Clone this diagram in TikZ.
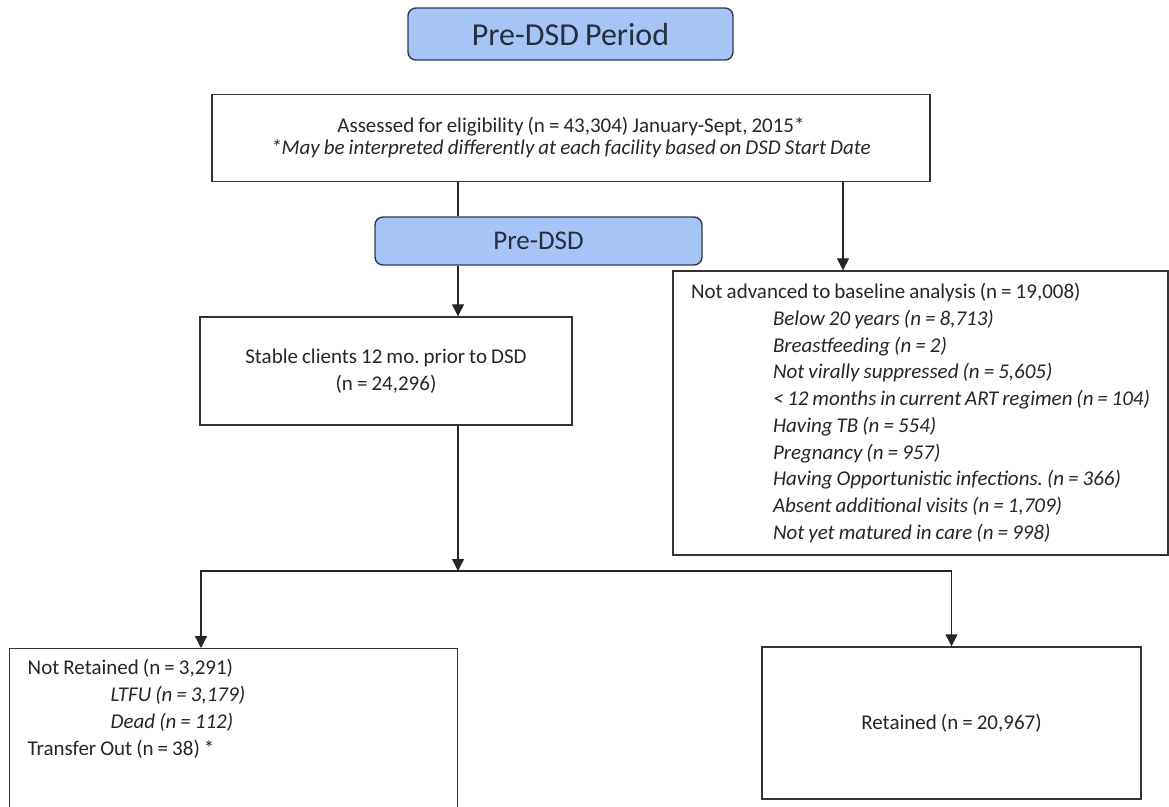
\documentclass[tikz,border=0pt]{standalone}
\usepackage{fontspec}
\setmainfont{Carlito}[WordSpace=0.85]
\usepackage{tikz}
\usetikzlibrary{arrows.meta}
\frenchspacing

\definecolor{hdrfill}{HTML}{A7C4F6}
\definecolor{hdrline}{HTML}{2E3A4F}
\definecolor{txt}{HTML}{262626}

\begin{document}
\begin{tikzpicture}[x=1pt, y=-1pt,
		every node/.style={font=\fontsize{21}{26.7}\selectfont, text=txt},
		box/.style={rectangle, draw=black!80, line width=1.4pt, inner sep=0pt},
		hdr/.style={rectangle, rounded corners=8pt, draw=hdrline, fill=hdrfill, line width=1.4pt, text=hdrline!80!black},
		arr/.style={-{Triangle[width=12pt,length=12pt]}, black!85, line width=1.3pt}]
			\useasboundingbox (0,0) rectangle (1169,806);
			
			% Nodes
			\node[hdr, minimum width=325pt, minimum height=52pt, font=\fontsize{32}{38}\selectfont] (0) at (570.5,34) {Pre-DSD Period};
			\node[box, minimum width=718pt, minimum height=87pt, align=center, font=\fontsize{21}{22}\selectfont] (1) at (571,138) {Assessed for eligibility (n = 43,304) January-Sept, 2015*\\ \textit{*May be interpreted differently at each facility based on DSD Start Date}};
			\node[hdr, minimum width=327pt, minimum height=48pt, font=\fontsize{27}{32}\selectfont] (2) at (538.5,241) {Pre-DSD};
			\node[box, minimum width=372pt, minimum height=108pt, align=center] (3) at (386,371) {Stable clients 12 mo. prior to DSD\\ (n = 24,296)};
			\node[box, minimum width=495pt, minimum height=284pt, text width=459pt, inner xsep=18pt, align=flush left] (4) at (920.5,413) {Not advanced to baseline analysis (n = 19,008)\\
				\hspace*{82pt}\textit{Below 20 years (n = 8,713)}\\
				\hspace*{82pt}\textit{Breastfeeding (n = 2)}\\
				\hspace*{82pt}\textit{Not virally suppressed (n = 5,605)}\\
				\hspace*{82pt}\textit{< 12 months in current ART regimen (n = 104)}\\
				\hspace*{82pt}\textit{Having TB (n = 554)}\\
				\hspace*{82pt}\textit{Pregnancy (n = 957)}\\
				\hspace*{82pt}\textit{Having Opportunistic infections. (n = 366)}\\
				\hspace*{82pt}\textit{Absent additional visits (n = 1,709)}\\
				\hspace*{82pt}\textit{Not yet matured in care (n = 998)}};
			\node[box, anchor=north west, text width=412pt, inner xsep=18pt, inner ysep=10pt, text depth=140pt, align=flush left, font=\fontsize{21}{27}\selectfont] (5) at (9,648) {Not Retained (n = 3,291)\\
				\hspace*{83pt}\textit{LTFU (n = 3,179)}\\
				\hspace*{83pt}\textit{Dead (n = 112)}\\
				Transfer Out (n = 38) *};
			\node[box, minimum width=379pt, minimum height=152pt] (6) at (951.5,723) {Retained (n = 20,967)};
			
			% Edges
			\coordinate (t) at (458,0);
			\coordinate (r) at (843,0);
			\coordinate (s) at (458,571);
			\coordinate (l) at (201,571);
			\draw[black!85, line width=1.3pt] (1.south -| t) -- (2.north -| t);
			\draw[arr] (2.south -| t) -- (3.north -| t);
			\draw[arr] (1.south -| r) -- (4.north -| r);
			\draw[arr] (3.south -| s) -- (s);
			\draw[arr] (s) -| (l |- 5.north);
			\draw[arr] (s) -| (6.north);
		\end{tikzpicture}
\end{document}
